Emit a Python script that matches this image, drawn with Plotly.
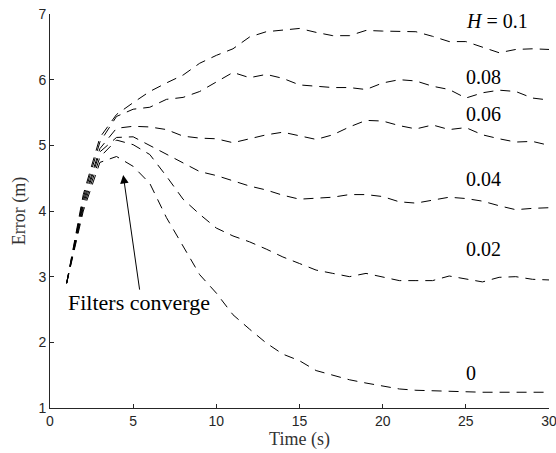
import plotly.graph_objects as go

time_s = list(range(1, 31))

err_h010 = [2.9, 4.25, 5.12, 5.47, 5.65, 5.82, 5.95, 6.07, 6.25, 6.37, 6.47, 6.65, 6.73, 6.76, 6.78,
            6.72, 6.67, 6.67, 6.75, 6.74, 6.73, 6.73, 6.66, 6.58, 6.58, 6.5, 6.41, 6.46, 6.47, 6.46]
err_h008 = [2.9, 4.2, 5.05, 5.44, 5.55, 5.58, 5.7, 5.73, 5.82, 5.97, 6.11, 6.03, 6.08, 6.02, 5.92,
            5.9, 5.88, 5.88, 5.85, 5.95, 6.0, 5.98, 5.9, 5.85, 5.72, 5.8, 5.84, 5.82, 5.72, 5.69]
err_h006 = [2.9, 4.15, 4.95, 5.26, 5.29, 5.28, 5.24, 5.14, 5.11, 5.1, 5.04, 5.1, 5.16, 5.2, 5.14,
            5.09, 5.16, 5.28, 5.38, 5.37, 5.3, 5.25, 5.31, 5.24, 5.27, 5.16, 5.1, 5.05, 5.06, 5.0]
err_h004 = [2.9, 4.1, 4.9, 5.12, 5.13, 5.0, 4.86, 4.74, 4.6, 4.54, 4.46, 4.38, 4.32, 4.24, 4.18,
            4.19, 4.21, 4.25, 4.25, 4.22, 4.14, 4.12, 4.17, 4.21, 4.19, 4.15, 4.08, 4.02, 4.04, 4.05]
err_h002 = [2.9, 4.05, 4.82, 5.08, 5.01, 4.86, 4.53, 4.18, 3.95, 3.74, 3.62, 3.53, 3.42, 3.3, 3.2,
            3.1, 3.05, 3.0, 3.05, 2.99, 2.94, 2.94, 2.94, 3.01, 2.96, 2.92, 2.99, 3.0, 2.96, 2.95]
err_h000 = [2.9, 4.0, 4.74, 4.83, 4.68, 4.42, 3.9, 3.47, 3.03, 2.75, 2.42, 2.2, 1.99, 1.82, 1.72,
            1.57, 1.5, 1.43, 1.38, 1.33, 1.29, 1.27, 1.26, 1.25, 1.24, 1.24, 1.24, 1.24, 1.24, 1.24]

series = [err_h010, err_h008, err_h006, err_h004, err_h002, err_h000]
labels = ["<i>H</i>&nbsp;=&nbsp;0.1", "0.08", "0.06", "0.04", "0.02", "0"]
label_y = [6.9, 6.04, 5.48, 4.49, 3.42, 1.53]

serif = "Liberation Serif"
sans = "Liberation Sans"

fig = go.Figure()
for ys in series:
    fig.add_trace(go.Scatter(
        x=time_s, y=ys, mode="lines",
        line=dict(color="black", width=1, dash="10px,7px"),
        showlegend=False, hoverinfo="skip",
    ))

for text, y in zip(labels, label_y):
    fig.add_annotation(x=25, y=y, text=text, showarrow=False, xanchor="left", xshift=-2,
                       font=dict(family=serif, size=20, color="black"))

# arrow pointing to where the filters converge
fig.add_annotation(x=4.4, y=4.55, ax=5.4, ay=2.78, xref="x", yref="y", axref="x", ayref="y",
                   text="", showarrow=True, arrowhead=2, arrowsize=1.7, arrowwidth=1,
                   arrowcolor="black")
fig.add_annotation(x=1.1, y=2.6, text="Filters converge", showarrow=False, xanchor="left",
                   xshift=-2, font=dict(family=serif, size=22, color="black"))

axis_style = dict(showline=True, linecolor="#262626", linewidth=1, ticks="inside", ticklen=4,
                  tickcolor="#262626", showgrid=False, zeroline=False, mirror=False,
                  automargin=False, ticklabeloverflow="allow",
                  tickfont=dict(family=sans, size=14, color="#262626"))

fig.update_xaxes(range=[0, 30], tickvals=[0, 5, 10, 15, 20, 25, 30],
                 title=dict(text="Time (s)", font=dict(family=serif, size=18, color="#333333"), standoff=2),
                 **axis_style)
fig.update_yaxes(range=[1, 7], tickvals=[1, 2, 3, 4, 5, 6, 7],
                 title=dict(text="Error (m)", font=dict(family=serif, size=18, color="#333333"), standoff=8),
                 **axis_style)

fig.update_layout(
    width=556, height=453,
    margin=dict(l=50, r=7, t=14, b=45),
    plot_bgcolor="white", paper_bgcolor="white",
)

# drop the default page margin so the figure fills the window exactly
fig.write_html("out.html", config={"displayModeBar": False},
               post_script="document.body.style.margin = '0';")
